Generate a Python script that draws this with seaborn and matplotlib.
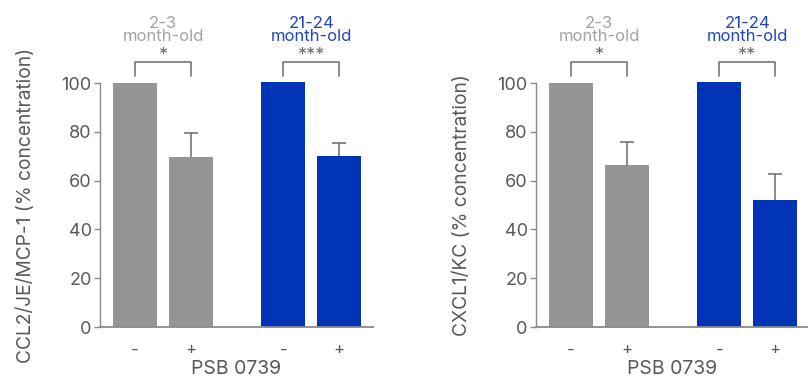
import matplotlib
matplotlib.use("Agg")
import matplotlib.pyplot as plt
import seaborn as sns
import pandas as pd

# ---- data ----
groups = ["2-3\nmonth-old", "2-3\nmonth-old", "21-24\nmonth-old", "21-24\nmonth-old"]
treatment = ["-", "+", "-", "+"]
ccl2_values = [100.0, 69.7, 100.4, 70.1]
ccl2_errors = [0.0, 9.7, 0.0, 5.4]
cxcl1_values = [100.0, 66.4, 100.4, 52.0]
cxcl1_errors = [0.0, 9.5, 0.0, 10.7]
ccl2_sig = ["*", "***"]
cxcl1_sig = ["*", "**"]
group_labels = ["2-3\nmonth-old", "21-24\nmonth-old"]
ylabels = ["CCL2/JE/MCP-1 (% concentration)", "CXCL1/KC (% concentration)"]
xlabel = "PSB 0739"
yticks = [0, 20, 40, 60, 80, 100]

# ---- style ----
sns.set_theme(style="white")
plt.rcParams["font.family"] = ["Inter", "DejaVu Sans"]
bar_colors = {"2-3\nmonth-old": "#959595", "21-24\nmonth-old": "#0033b5"}
label_colors = ["#a3a3a3", "#1f45c4"]
text_color = "#595959"
spine_color = "#8a8a8a"

W, H = 808, 379
fig = plt.figure(figsize=(W / 100, H / 100), dpi=100)
axes_px = [(100, 273), (536, 272)]
bottom_px, top_px = 327, 83

group_gap = 2.65
positions = [g * group_gap + t for g in (0, 1) for t in (0, 1)]

panels = [(ccl2_values, ccl2_errors, ccl2_sig), (cxcl1_values, cxcl1_errors, cxcl1_sig)]
for i, ((vals, errs, sig), (lpx, wpx)) in enumerate(zip(panels, axes_px)):
    ax = fig.add_axes([lpx / W, (H - bottom_px) / H, wpx / W, (bottom_px - top_px) / H])
    df = pd.DataFrame({"pos": positions, "value": vals, "group": groups})
    sns.barplot(data=df, x="pos", y="value", hue="group", palette=bar_colors,
                native_scale=True, width=44 / 56, errorbar=None, legend=False,
                saturation=1, ax=ax, zorder=2)
    for p in ax.patches:
        p.set_clip_on(False)
        p.set_linewidth(0)
    # upper-only error bars (only where an error exists)
    ex = [p for p, e in zip(positions, errs) if e > 0]
    ey = [v for v, e in zip(vals, errs) if e > 0]
    ee = [e for e in errs if e > 0]
    _, caps, _ = ax.errorbar(ex, ey, yerr=[[0] * len(ee), ee], fmt="none",
                             ecolor="#6b6b6b", elinewidth=1.1, capsize=7 * 0.75,
                             capthick=1.1, zorder=3, clip_on=False)
    caps[0].set_visible(False)
    ax.set_xlim(-0.625, -0.625 + wpx / 56)
    ax.set_ylim(0, 100)
    ax.set_yticks(yticks)
    ax.set_xticks(positions)
    ax.set_xticklabels(treatment)
    ax.tick_params(axis="y", which="both", left=True, length=4, width=1,
                   color=spine_color, labelsize=13, labelcolor=text_color, pad=2)
    ax.tick_params(axis="x", length=0, labelsize=12, labelcolor=text_color, pad=11)
    for s in ["top", "right"]:
        ax.spines[s].set_visible(False)
    ax.spines["left"].set_color(spine_color)
    ax.spines["bottom"].set_color(spine_color)
    ax.spines["left"].set_linewidth(1)
    ax.spines["bottom"].set_linewidth(1.3)
    ax.set_xlabel(xlabel, fontsize=14, color=text_color, labelpad=2)
    ax.set_ylabel(ylabels[i], fontsize=13.8, color=text_color)
    ax.yaxis.set_label_coords(-(65 / wpx), 0.5)
    # brackets, stars, group labels
    for g in range(2):
        x0, x1 = positions[2 * g], positions[2 * g + 1]
        ax.plot([x0, x0, x1, x1], [102.9, 108.6, 108.6, 102.9], color="#777777",
                lw=1.2, clip_on=False, zorder=4)
        ax.text((x0 + x1) / 2, 111.3, sig[g], ha="center", va="center",
                fontsize=13, color="#6b6b6b", clip_on=False)
        ax.text((x0 + x1) / 2, 121.8, group_labels[g], ha="center", va="center",
                fontsize=12, color=label_colors[g], linespacing=0.85,
                clip_on=False)
    ax.set_facecolor("none")

fig.savefig("out.png", dpi=100)
